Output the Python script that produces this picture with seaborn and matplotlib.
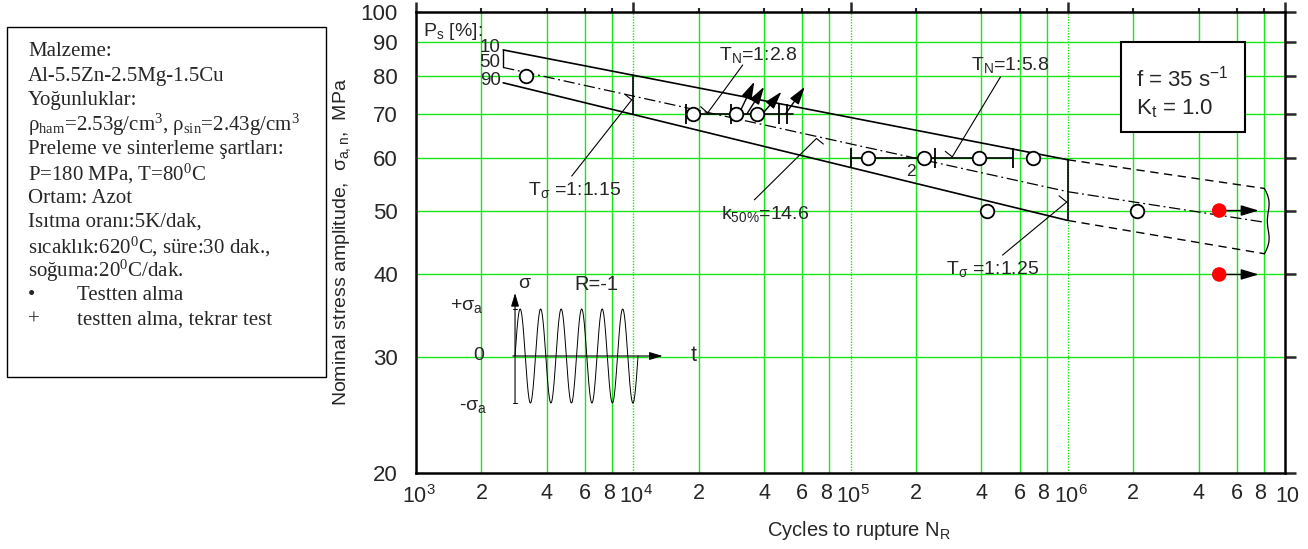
import numpy as np
import pandas as pd
import seaborn as sns
import matplotlib.pyplot as plt
from matplotlib.ticker import FixedLocator, FixedFormatter
from matplotlib.patches import Rectangle
from matplotlib.transforms import ScaledTranslation

# failures (open circles)
fail_N = [3.2e3, 1.89e4, 2.97e4, 3.72e4, 1.21e5, 2.19e5, 3.92e5, 6.92e5, 4.27e5, 2.09e6]
fail_S = [80, 70, 70, 70, 60, 60, 60, 60, 50, 50]
# run-outs, taken out of the test (red)
runout_N = [4.98e6, 4.98e6]
runout_S = [50, 40]
runout_to = 7.57e6

# scatter band P_s = 10 / 50 / 90 %
p10_N = [2.52e3, 1e6]
p10_S = [87.6, 59.7]
p50_N = [2.52e3, 1e6, 8.05e6]
p50_S = [82.4, 53.4, 48.0]
p90_N = [2.52e3, 1e6]
p90_S = [78.1, 48.3]
ext_N = [1e6, 8.05e6]
ext10_S = [59.7, 54.0]
ext90_S = [48.3, 43.0]

# scatter range marks on the 70 and 60 MPa levels
lvl70_N = [1.74e4, 2.82e4, 4.71e4, 5.12e4]
lvl70_span = [1.9e4, 5.43e4]
lvl60_N = [1.01e5, 2.44e5, 5.62e5]
lvl60_span = [1.01e5, 5.62e5]
# retested specimens (arrows)
up_from_N = [3.06e4, 3.33e4, 3.92e4, 5.01e4]
up_to_N = [3.61e4, 4.0e4, 4.81e4, 6.16e4]
up_to_S = [78.4, 77.0, 75.7, 77.0]

y_ticks = [20, 30, 40, 50, 60, 70, 80, 90, 100]
x_major = [1e3, 1e4, 1e5, 1e6, 1e7]
x_major_lbl = [r'$\mathregular{10^{3}}$', r'$\mathregular{10^{4}}$', r'$\mathregular{10^{5}}$',
               r'$\mathregular{10^{6}}$', '10']
x_minor = [m * 10.0 ** d for d in range(3, 7) for m in (2, 4, 6, 8)]
x_minor_lbl = ['2', '4', '6', '8'] * 4

box_lines = [
    'Malzeme:',
    'Al-5.5Zn-2.5Mg-1.5Cu',
    'Yoğunluklar:',
    r'$\mathregular{ρ_{ham}}$=2.53g/cm$\mathregular{^3}$, $\mathregular{ρ_{sin}}$=2.43g/cm$\mathregular{^3}$',
    'Preleme ve sinterleme şartları:',
    r'P=180 MPa, T=80$\mathregular{^0}$C',
    'Ortam: Azot',
    'Isıtma oranı:5K/dak,',
    r'sıcaklık:620$\mathregular{^0}$C, süre:30 dak.,',
    r'soğuma:20$\mathregular{^0}$C/dak.',
]
legend_lines = [('•', 'Testten alma'), ('+', 'testten alma, tekrar test')]

sns.set_style('white')
plt.rcParams['font.family'] = ['Liberation Sans', 'DejaVu Sans']
GREEN = '#19e619'

fig = plt.figure(figsize=(13.08, 5.49), dpi=100)
ax = fig.add_axes([416 / 1308, 1 - 473 / 549, 869 / 1308, 461 / 549])
ax.set_xscale('log')
ax.set_yscale('log')
ax.set_xlim(1e3, 1e7)
ax.set_ylim(20, 100)

# grid
for v in x_major[1:-1]:
    ax.axvline(v, color=GREEN, lw=1, ls=(0, (1, 1)), zorder=0)
for v in x_minor:
    ax.axvline(v, color=GREEN, lw=1, zorder=0)
for v in y_ticks[1:-1]:
    ax.axhline(v, color=GREEN, lw=1, zorder=0)

ax.xaxis.set_major_locator(FixedLocator(x_major))
ax.xaxis.set_major_formatter(FixedFormatter(x_major_lbl))
ax.xaxis.set_minor_locator(FixedLocator(x_minor))
ax.xaxis.set_minor_formatter(FixedFormatter(x_minor_lbl))
ax.yaxis.set_major_locator(FixedLocator(y_ticks))
ax.yaxis.set_major_formatter(FixedFormatter([str(v) for v in y_ticks]))
ax.yaxis.set_minor_locator(FixedLocator([]))
ax.tick_params(which='both', top=True, right=True, labeltop=False, labelright=False)
ax.tick_params(axis='x', which='major', length=7, width=1.8, pad=2, labelsize=15.5, direction='out')
ax.tick_params(axis='x', which='minor', length=3, width=1.5, pad=4, labelsize=15.5, direction='out')
ax.tick_params(axis='y', which='major', length=8, width=1.8, pad=5, labelsize=16, direction='out')
for s in ax.spines.values():
    s.set_linewidth(1.8)
    s.set_color('k')

# keep "8" and the decade label beside it apart
for tk, lbl in zip(ax.xaxis.get_minor_ticks(), x_minor_lbl):
    if lbl == '8':
        tk.label1.set_transform(tk.label1.get_transform()
                                + ScaledTranslation(-2.5 / 72, 0, fig.dpi_scale_trans))
for tk in ax.xaxis.get_major_ticks():
    tk.label1.set_transform(tk.label1.get_transform()
                            + ScaledTranslation(2.0 / 72, 0, fig.dpi_scale_trans))

ax.set_xlabel(r'Cycles to rupture N$\mathregular{_R}$', fontsize=14.5)
ax.xaxis.set_label_coords(0.51, -0.10)
ax.set_ylabel(r'Nominal stress amplitude,  $\mathregular{σ_{a,n}}$,  MPa', fontsize=14)
ax.yaxis.set_label_coords(-0.072, 0.5)

# scatter band
sns.lineplot(x=p10_N, y=p10_S, color='k', lw=1.2, ax=ax, estimator=None, sort=False)
sns.lineplot(x=p90_N, y=p90_S, color='k', lw=1.2, ax=ax, estimator=None, sort=False)
sns.lineplot(x=p50_N, y=p50_S, color='k', lw=0.9, dashes=False, ax=ax, estimator=None,
             sort=False).lines[-1].set_dashes((9, 3, 1.5, 3))
for ys in (ext10_S, ext90_S):
    ax.plot(ext_N, ys, color='k', lw=1.0, dashes=(6, 4))
ax.plot([1e4, 1e4], [80.2, 70.0], color='k', lw=1.2)
ax.plot([1e6, 1e6], [59.7, 48.3], color='k', lw=1.2)
ax.plot([p10_N[0], p10_N[0]], [p10_S[0], p50_S[0]], color='k', lw=1.0)
# brace at the end of the band
tb = np.linspace(0, 1, 40)
ax.plot(8.05e6 * (1 + 0.05 * np.sin(np.pi * tb) + 0.02 * np.sin(3 * np.pi * tb)),
        ext10_S[1] * (ext90_S[1] / ext10_S[1]) ** tb, color='k', lw=0.9)

# level scatter ranges
ax.plot(lvl70_span, [70, 70], color='k', lw=1.2)
ax.plot(lvl60_span, [60, 60], color='k', lw=1.2)
ax.plot(lvl70_N, [70] * len(lvl70_N), ls='none', marker='|', ms=14, mew=1.3, color='k')
ax.plot(lvl60_N, [60] * len(lvl60_N), ls='none', marker='|', ms=14, mew=1.3, color='k')

for x0, x1, y1 in zip(up_from_N, up_to_N, up_to_S):
    ax.annotate('', xy=(x1, y1), xytext=(x0, 70),
                arrowprops=dict(arrowstyle='-|>,head_length=0.6,head_width=0.18',
                                color='k', lw=1.0, mutation_scale=18, shrinkA=0, shrinkB=0))
for x0, y0 in zip(runout_N, runout_S):
    ax.annotate('', xy=(runout_to, y0), xytext=(x0, y0), zorder=6,
                arrowprops=dict(arrowstyle='-|>,head_length=0.6,head_width=0.18',
                                color='k', lw=1.0, mutation_scale=18, shrinkA=0, shrinkB=0))

sns.scatterplot(x=fail_N, y=fail_S, marker='o', s=95, facecolor='white', edgecolor='k',
                linewidth=1.3, zorder=5, ax=ax)
sns.scatterplot(x=runout_N, y=runout_S, marker='o', s=110, color='#ff0000', edgecolor='none',
                zorder=7, ax=ax)

# labels of the band
ax.text(1.08e3, 93.3, r'P$\mathregular{_s}$ [%]:', fontsize=14, va='center')
for lbl, yv in zip(['10', '50', '90'], [88.3, 83.8, 78.6]):
    ax.text(2.45e3, yv, lbl, fontsize=13.5, ha='right', va='center')

# text, text position, leader start, leader end, hook offset (points)
ann = [
    (r'T$\mathregular{_σ}$ =1:1.15', (3.28e3, 53.7), (5.21e3, 56.4), (9.84e3, 73.6), (-4.5, 3.6)),
    (r'T$\mathregular{_N}$=1:2.8', (2.48e4, 86.0), (3.19e4, 83.1), (2.2e4, 70.3), (-5, 4.5)),
    (r'T$\mathregular{_N}$=1:5.8', (3.6e5, 83.1), (4.91e5, 79.8), (2.94e5, 60.3), (-5, 4)),
    (r'k$\mathregular{_{50\%}}$=14.6', (2.53e4, 49.4), (3.61e4, 51.9), (6.97e4, 64.3), (5, -4)),
    (r'T$\mathregular{_σ}$ =1:1.25', (2.76e5, 40.8), (5.01e5, 42.8), (9.89e5, 51.5), (-5.5, 4.5)),
]
for txt, tpos, l0, l1, hook in ann:
    ax.text(tpos[0], tpos[1], txt, fontsize=14, va='center', ha='left')
    ax.plot([l0[0], l1[0]], [l0[1], l1[1]], color='k', lw=0.8)
    ax.annotate('', xy=l1, xytext=hook, textcoords='offset points',
                arrowprops=dict(arrowstyle='-', color='k', lw=0.8, shrinkA=0, shrinkB=0))
ax.text(1.89e5, 57.3, '2', fontsize=12.5, ha='center', va='center')

# f / Kt box
ax.add_patch(Rectangle((0.811, 0.740), 0.143, 0.195, transform=ax.transAxes,
                       facecolor='white', edgecolor='k', lw=1.5, zorder=8))
ax.text(0.829, 0.855, r'f = 35 s$\mathregular{^{-1}}$', transform=ax.transAxes,
        fontsize=16, va='center', zorder=9)
ax.text(0.829, 0.79, r'K$\mathregular{_t}$ = 1.0', transform=ax.transAxes,
        fontsize=16, va='center', zorder=9)

# material box (figure coords)
fig.patches.append(Rectangle((6.7 / 1308, 1 - 376.7 / 549), (326 - 6.7) / 1308, 350 / 549,
                             transform=fig.transFigure, facecolor='white', edgecolor='k',
                             lw=1.0))
serif = ['Liberation Serif', 'DejaVu Serif']
for i, line in enumerate(box_lines):
    fig.text(28 / 1308, 1 - (51.7 + 24.4 * i) / 549, line, family=serif, fontsize=15,
             va='center')
for j, (sym, line) in enumerate(legend_lines):
    yy = 1 - (51.7 + 24.4 * (len(box_lines) + j)) / 549
    fig.text(28 / 1308, yy, sym, family=serif, fontsize=15, va='center')
    fig.text(76.7 / 1308, yy, line, family=serif, fontsize=15, va='center')

# R = -1 sketch
ins = fig.add_axes([440 / 1308, 1 - 420 / 549, 270 / 1308, 150 / 549])
ins.set_axis_off()
ins.patch.set_alpha(0)
ins.set_xlim(-3.66, 9.51)
ins.set_ylim(-1.362, 1.83)
t = np.linspace(0, 6, 800)
ins.plot(t, np.sin(2 * np.pi * t), color='k', lw=0.7)
ins.annotate('', xy=(0, 1.34), xytext=(0, -1.0),
             arrowprops=dict(arrowstyle='-|>,head_length=0.5,head_width=0.15', color='k',
                             lw=0.8, mutation_scale=16, shrinkA=0, shrinkB=0))
ins.annotate('', xy=(7.2, 0), xytext=(-0.11, 0),
             arrowprops=dict(arrowstyle='-|>,head_length=0.5,head_width=0.15', color='k',
                             lw=0.8, mutation_scale=16, shrinkA=0, shrinkB=0))
ins.plot([-0.1, 0.1], [1, 1], color='k', lw=0.7)
ins.plot([-0.1, 0.1], [-1, -1], color='k', lw=0.7)
ins.text(0.16, 1.55, 'σ', fontsize=14, ha='left', va='center')
ins.text(3.95, 1.53, 'R=-1', fontsize=14.5, ha='center', va='center')
ins.text(-1.55, 1.06, r'+σ$\mathregular{_a}$', fontsize=14, ha='right', va='center')
ins.text(-1.79, 0, '0', fontsize=14, ha='center', va='center')
ins.text(-1.35, -1.08, r'-σ$\mathregular{_a}$', fontsize=14, ha='right', va='center')
ins.text(8.7, 0, 't', fontsize=15.5, ha='center', va='center')

fig.savefig('out.png', dpi=100)
